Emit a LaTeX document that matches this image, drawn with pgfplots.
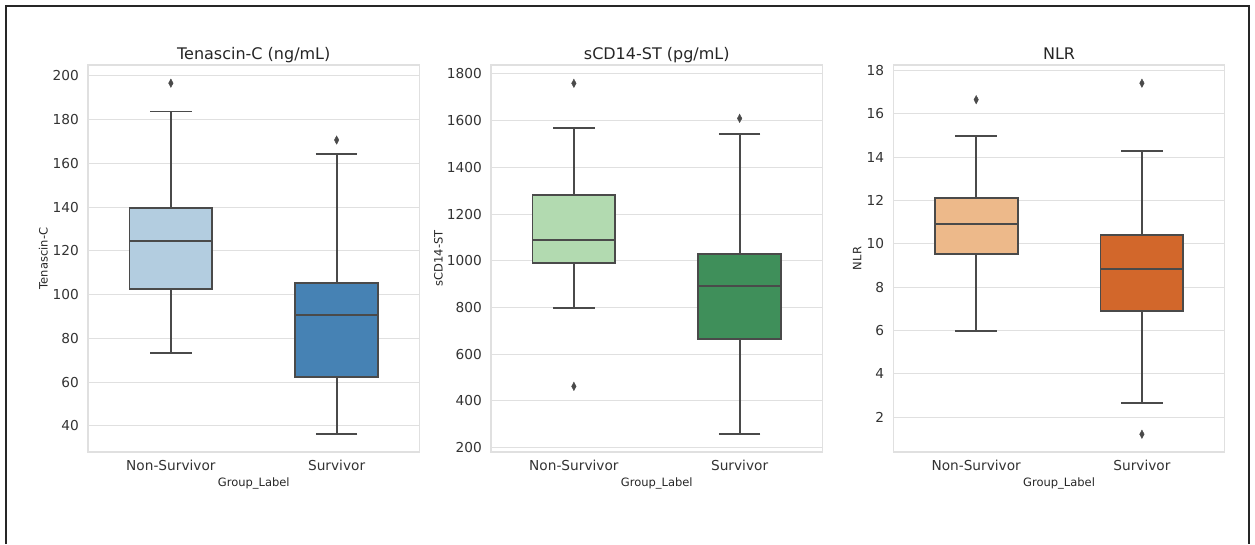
\documentclass[border=0pt]{standalone}
\usepackage{fontspec}
\setmainfont{DejaVu Sans}
\usepackage{pgfplots}
\pgfplotsset{compat=1.18}
\usepgfplotslibrary{statistics}

\definecolor{boxline}{HTML}{4A4A4A}
\definecolor{gridc}{HTML}{E0E0E0}
\definecolor{spine}{HTML}{E0E0E0}
\definecolor{txt}{HTML}{333333}
\definecolor{ttl}{HTML}{262626}
\definecolor{b1}{HTML}{B3CDE0}
\definecolor{b2}{HTML}{4682B4}
\definecolor{g1}{HTML}{B2DAB0}
\definecolor{g2}{HTML}{3F8F5A}
\definecolor{o1}{HTML}{EDB98A}
\definecolor{o2}{HTML}{D2672B}

\pgfplotsset{
  panel/.style={
    scale only axis, width=331.5bp, height=387bp,
    boxplot/draw direction=y,
    xmin=-0.5, xmax=1.5, xtick={0,1}, xticklabels={Non-Survivor,Survivor},
    ymajorgrids, grid style={gridc, line width=1bp},
    axis line style={spine, line width=1.2bp},
    tick style={draw=none},
    scaled y ticks=false,
    /pgf/number format/1000 sep={},
    /pgf/number format/assume math mode=true,
    tick label style={font=\fontsize{13.7bp}{16bp}\selectfont, text=txt},
    yticklabel style={anchor=east, inner sep=0pt, xshift=-9bp},
    xticklabel style={anchor=base, inner sep=0pt, yshift=-18bp},
    title style={font=\fontsize{16bp}{19bp}\selectfont, text=ttl, at={(axis description cs:0.5,1)}, anchor=base, inner sep=0pt},
    xlabel={Group\_Label},
    label style={font=\fontsize{11.5bp}{14bp}\selectfont, text=ttl},
    xlabel style={at={(axis description cs:0.5,0)}, anchor=base, yshift=-34.7bp, inner sep=0pt},
  },
  bx/.style={draw=boxline, line width=1.8bp, fill=#1, mark=diamond*, mark size=3bp,
    mark options={fill=boxline, draw=boxline, line width=0.4bp, yscale=1.4}},
}

\begin{document}
\begin{tikzpicture}
\path (0,0) rectangle (1255bp,-544bp);
\draw[line width=2bp, black!85] (6bp,-544bp) -- (6bp,-6bp) -- (1249bp,-6bp) -- (1249bp,-544bp);

% Panel 1
\begin{axis}[panel, at={(88bp,-452bp)},
  title={Tenascin-C (ng/mL)}, ylabel={Tenascin-C},
  ylabel style={at={(axis description cs:-0.122,0.5)}, anchor=base, inner sep=0pt},
  ymin=28.1, ymax=205, ytick={40,60,80,100,120,140,160,180,200}]
\addplot[bx=b1, boxplot prepared={draw position=0, lower whisker=73.4, lower quartile=102.6, median=124.6, upper quartile=139.5, upper whisker=183.7, box extend=0.5, whisker extend=0.25}] table[row sep=\\, y index=0] {196.7\\};
\addplot[bx=b2, boxplot prepared={draw position=1, lower whisker=36.3, lower quartile=62.4, median=90.7, upper quartile=105.2, upper whisker=164.5, box extend=0.5, whisker extend=0.25}] table[row sep=\\, y index=0] {170.7\\};
\end{axis}

% Panel 2
\begin{axis}[panel, at={(491bp,-452bp)},
  title={sCD14-ST (pg/mL)}, ylabel={sCD14-ST},
  ylabel style={at={(axis description cs:-0.146,0.5)}, anchor=base, inner sep=0pt},
  ymin=181.6, ymax=1838.5, ytick={200,400,600,800,1000,1200,1400,1600,1800}]
\addplot[bx=g1, boxplot prepared={draw position=0, lower whisker=798, lower quartile=990.6, median=1088, upper quartile=1283, upper whisker=1570, box extend=0.5, whisker extend=0.25}] table[row sep=\\, y index=0] {1760\\ 462.6\\};
\addplot[bx=g2, boxplot prepared={draw position=1, lower whisker=258.5, lower quartile=665, median=892, upper quartile=1029, upper whisker=1541.7, box extend=0.5, whisker extend=0.25}] table[row sep=\\, y index=0] {1610\\};
\end{axis}

% Panel 3
\begin{axis}[panel, at={(893.3bp,-452bp)},
  title={NLR}, ylabel={NLR},
  ylabel style={at={(axis description cs:-0.096,0.5)}, anchor=base, inner sep=0pt},
  ymin=0.40, ymax=18.26, ytick={2,4,6,8,10,12,14,16,18}]
\addplot[bx=o1, boxplot prepared={draw position=0, lower whisker=6.0, lower quartile=9.52, median=10.91, upper quartile=12.11, upper whisker=14.97, box extend=0.5, whisker extend=0.25}] table[row sep=\\, y index=0] {16.66\\};
\addplot[bx=o2, boxplot prepared={draw position=1, lower whisker=2.66, lower quartile=6.89, median=8.83, upper quartile=10.43, upper whisker=14.28, box extend=0.5, whisker extend=0.25}] table[row sep=\\, y index=0] {17.42\\ 1.22\\};
\end{axis}
\end{tikzpicture}
\end{document}
